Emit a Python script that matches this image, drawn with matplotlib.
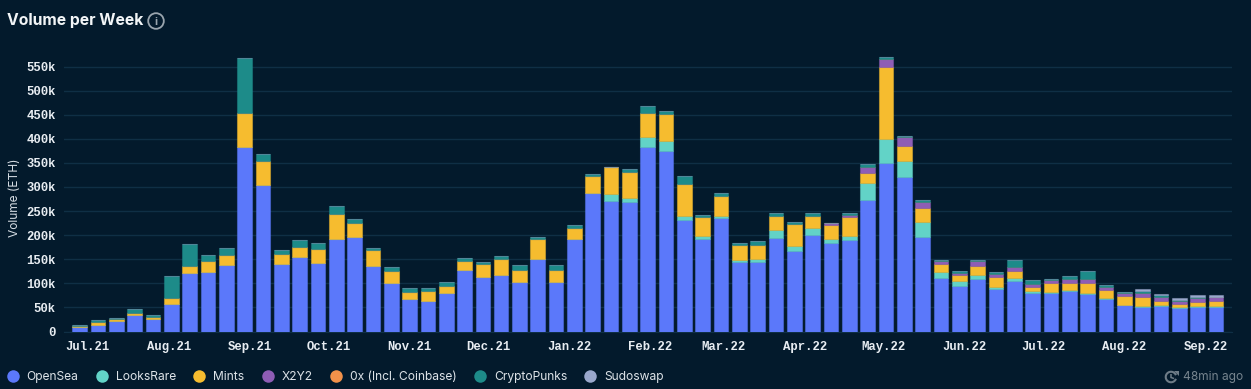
import matplotlib
matplotlib.use("Agg")
import matplotlib.pyplot as plt
import matplotlib.dates as mdates
from matplotlib.lines import Line2D
from matplotlib.patches import Arc, Circle, Polygon
from matplotlib.colors import to_rgba
import numpy as np
import pandas as pd

first_week = "2021-06-28"
n_weeks = 63

opensea = [10,14,21,34,26,58,121,124,138,382,305,141,155,143,192,196,136,100,67,64,79,128,113,117,102,151,102,193,287,271,268,382,375,231,193,235,145,144,195,167,200,183,189,274,349,320,196,111,95,109,88,104,80,79,84,77,68,55,50,53,48,50,50]
looksrare = [0,0,0,0,0,0,0,0,0,0,0,0,0,0,0,0,0,0,0,0,0,0,0,0,0,0,0,0,0,15,10,22,21,9,6,5,3,6,16,11,15,10,10,35,51,34,31,13,9,8,5,7,4,4,3,2,2,1,2,1,2,3,3]
mints = [2,5,4,5,4,12,16,23,21,72,48,20,21,28,52,29,33,26,14,20,16,19,28,34,26,40,26,22,35,55,53,50,56,67,39,42,32,30,29,45,25,28,39,20,149,31,30,17,13,20,20,15,9,17,14,21,16,18,20,10,7,9,11]
x2y2 = [0,0,0,0,0,0,0,0,0,0,0,0,0,0,0,0,0,0,0,0,0,0,0,0,0,0,0,0,0,0,0,0,0,0,0,0,0,0,0,0,0,4,3,12,16,18,12,5,5,9,7,7,6,6,8,8,7,6,7,7,7,8,7]
zerox = [0,0,0,0,0,0,0,0,0,0,0,0,0,0,0,0,0,0,0,0,0,0,0,0,0,0,0,0,0,0,0,0,0,0,0,0,0,0,0,0,0,0,0,0,0,0,0,0,0,0,0,0,0,0,0,0,0,0,0,0,0,0,0]
cryptopunks = [2,5,4,7,4,45,45,11,14,114,16,8,13,12,17,8,5,7,9,6,8,6,3,6,10,6,10,6,4,0,7,14,6,16,3,5,3,8,6,4,5,0,4,6,4,2,4,3,3,2,3,15,7,4,7,18,4,2,5,4,2,2,1]
sudoswap = [0,0,0,0,0,0,0,0,0,0,0,0,0,0,0,0,0,0,0,0,0,0,0,0,0,0,0,0,0,0,0,0,0,0,0,0,0,0,0,0,0,0,0,0,0,0,0,0,0,0,0,0,0,0,0,0,0,0,4,3,4,3,4]

series_names = ["OpenSea", "LooksRare", "Mints", "X2Y2", "0x (Incl. Coinbase)", "CryptoPunks", "Sudoswap"]
series_values = [opensea, looksrare, mints, x2y2, zerox, cryptopunks, sudoswap]
series_colors = ["#5B78FA", "#62D3C7", "#F6BC2F", "#8E5DB5", "#F2914A", "#1D8B89", "#9AA8CC"]
y_ticks = [0,50,100,150,200,250,300,350,400,450,500,550]
y_labels = ["0","50k","100k","150k","200k","250k","300k","350k","400k","450k","500k","550k"]
month_ticks = pd.date_range("2021-07-01", "2022-09-01", freq="MS")

BG = "#031A2C"
GRID = "#0F2F45"
W, H = 1251, 389
fig = plt.figure(figsize=(W/100, H/100), dpi=100, facecolor=BG)

ax_left, ax_right, ax_top, ax_bottom = 64, 1232, 54.5, 331.5
ax = fig.add_axes([ax_left/W, 1-ax_bottom/H, (ax_right-ax_left)/W, (ax_bottom-ax_top)/H], facecolor=BG)

weeks = pd.date_range(first_week, periods=n_weeks, freq="7D")
x = mdates.date2num(weeks)
bottom = np.zeros(n_weeks)
for vals, col in zip(series_values, series_colors):
    v = np.array(vals, dtype=float)
    ax.bar(x, v*1000, bottom=bottom*1000, width=5.6, color=col,
           edgecolor=to_rgba(col, 0.45), linewidth=0.8, zorder=3)
    bottom += v

px_per_day = 18.33/7
ax.set_xlim(x[0]-(79.6-ax_left)/px_per_day, x[-1]+(ax_right-1216)/px_per_day)
ax.set_ylim(0, 575000)
ax.set_yticks([t*1000 for t in y_ticks], y_labels)
ax.set_xticks(mdates.date2num(month_ticks), [d.strftime("%b.%y") for d in month_ticks])
ax.grid(axis="y", color=GRID, linewidth=1, zorder=0)
ax.set_axisbelow(True)
for s in ax.spines.values():
    s.set_visible(False)
ax.spines["bottom"].set_visible(True)
ax.spines["bottom"].set_color(GRID)
ax.tick_params(length=0)
mono = dict(family="Liberation Mono", weight="bold", color="#E8EDF2", fontsize=8.8)
ax.tick_params(axis="y", pad=6)
ax.tick_params(axis="x", pad=6.5)
for lab in ax.get_xticklabels() + ax.get_yticklabels():
    lab.set(**mono)

fig.text(15/W, 1-198/H, "Volume (ETH)", rotation=90, ha="center", va="center",
         family="Inter", fontsize=8.6, color="#D5DCE3")
fig.text(7/W, 1-20/H, "Volume per Week", ha="left", va="center", family="Inter",
         weight="bold", fontsize=11.3, color="#F2F5F7")

# figure-level overlay in pixel coordinates for the small icons
ov = fig.add_axes([0, 0, 1, 1], facecolor="none")
ov.set_xlim(0, W); ov.set_ylim(H, 0); ov.axis("off")
ov.add_patch(Circle((156, 21), 7.8, fill=False, ec="#9AA5AE", lw=1.3))
ov.text(156, 21.5, "i", ha="center", va="center", family="Inter", weight="bold", fontsize=8, color="#9AA5AE")
ov.add_patch(Arc((1171, 377), 10.5, 10.5, theta1=20, theta2=340, ec="#6E7C87", lw=1.5))
ov.add_patch(Polygon([[1171, 374], [1171, 377.5], [1174, 378.5]], closed=False, fill=False, ec="#6E7C87", lw=1.1))
ov.add_patch(Polygon([[1174, 371], [1178.5, 371], [1178.5, 375.5]], closed=True, fc="#6E7C87", ec="none"))
ov.text(1243, 377, "48min ago", ha="right", va="center", family="Inter", fontsize=8.6, color="#77858F")

handles = [Line2D([], [], linestyle="none", marker="o", markersize=9, color=c, markeredgewidth=0)
           for c in series_colors]
leg = fig.legend(handles, series_names, ncol=7, loc="center left", bbox_to_anchor=(3/W, 1-377/H),
                 frameon=False, handletextpad=0.35, columnspacing=1.13, handlelength=1.6,
                 borderpad=0, borderaxespad=0,
                 prop={"family": "Inter", "size": 8.7})
for t in leg.get_texts():
    t.set_color("#DDE3E8")

fig.savefig("out.png", dpi=100, facecolor=BG)
